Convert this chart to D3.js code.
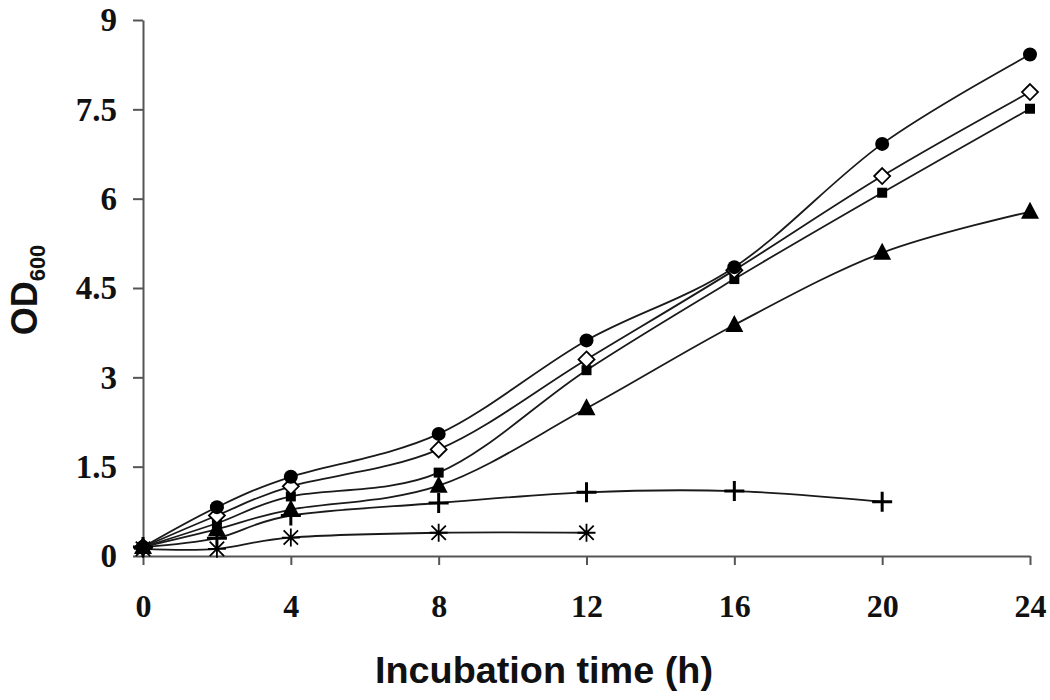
<!DOCTYPE html>
<html><head><meta charset="utf-8">
<script src="https://cdn.jsdelivr.net/npm/d3@7"></script>
<style>body{margin:0;background:#fff}svg{display:block}</style>
</head><body>
<svg id="c" width="1050" height="700"></svg>
<script>
const xTicks = [0, 4, 8, 12, 16, 20, 24];
const yTicks = [0, 1.5, 3, 4.5, 6, 7.5, 9];
const yTickLabels = ["0", "1.5", "3", "4.5", "6", "7.5", "9"];
const hours = [0, 2, 4, 8, 12, 16, 20, 24];
const circleVals   = [0.15, 0.82, 1.33, 2.05, 3.62, 4.85, 6.92, 8.42];
const diamondVals  = [0.15, 0.68, 1.17, 1.79, 3.30, 4.80, 6.38, 7.79];
const squareVals   = [0.15, 0.55, 1.00, 1.40, 3.12, 4.65, 6.10, 7.51];
const triangleVals = [0.15, 0.45, 0.78, 1.18, 2.48, 3.88, 5.09, 5.78];
const plusHours = [0, 2, 4, 8, 12, 16, 20];
const plusVals  = [0.15, 0.30, 0.68, 0.89, 1.07, 1.09, 0.91];
const starHours = [0, 2, 4, 8, 12];
const starVals  = [0.12, 0.12, 0.31, 0.39, 0.39];

const series = [
  {name: "circle", xs: hours, ys: circleVals},
  {name: "diamond", xs: hours, ys: diamondVals},
  {name: "square", xs: hours, ys: squareVals},
  {name: "triangle", xs: hours, ys: triangleVals},
  {name: "plus", xs: plusHours, ys: plusVals},
  {name: "star", xs: starHours, ys: starVals}
];

const svg = d3.select("#c");
const x = d3.scaleLinear().domain([0, 24]).range([143, 1030]);
const y = d3.scaleLinear().domain([0, 9]).range([556, 20]);
const axisColor = "#555";

// axes
const gx = svg.append("g").attr("transform", `translate(0,${y(0)})`)
  .call(d3.axisBottom(x).tickValues(xTicks).tickSize(9).tickSizeOuter(0).tickFormat(d3.format("d")));
gx.select(".domain").attr("stroke", axisColor).attr("stroke-width", 2);
gx.selectAll(".tick line").attr("stroke", axisColor).attr("stroke-width", 2);
gx.selectAll(".tick text").attr("font-family", "Liberation Serif, serif").attr("font-weight", "bold")
  .attr("font-size", 32).attr("fill", "#111").attr("dy", 0).attr("y", 61);

const gy = svg.append("g").attr("transform", `translate(${x(0)},0)`)
  .call(d3.axisLeft(y).tickValues(yTicks).tickSize(10).tickSizeOuter(0).tickFormat((d, i) => yTickLabels[i]));
gy.select(".domain").attr("stroke", axisColor).attr("stroke-width", 2);
gy.selectAll(".tick line").attr("stroke", axisColor).attr("stroke-width", 2);
gy.selectAll(".tick text").attr("font-family", "Liberation Serif, serif").attr("font-weight", "bold")
  .attr("font-size", 33).attr("fill", "#111").attr("x", -26).attr("dy", "0.33em");

// lines
const line = d3.line().x(d => x(d[0])).y(d => y(d[1])).curve(d3.curveCardinal.tension(0));
series.forEach(s => {
  const pts = s.xs.map((h, i) => [h, s.ys[i]]);
  svg.append("path").attr("d", line(pts)).attr("fill", "none")
    .attr("stroke", "#1a1a1a").attr("stroke-width", 1.8);
});

// markers
function drawMarker(g, type, cx, cy) {
  if (type === "circle") {
    g.append("circle").attr("cx", cx).attr("cy", cy).attr("r", 7).attr("fill", "#000");
  } else if (type === "diamond") {
    g.append("path").attr("d", `M${cx},${cy-8}L${cx+8},${cy}L${cx},${cy+8}L${cx-8},${cy}Z`)
      .attr("fill", "#fff").attr("stroke", "#000").attr("stroke-width", 1.8);
  } else if (type === "square") {
    g.append("rect").attr("x", cx-5).attr("y", cy-5).attr("width", 10).attr("height", 10).attr("fill", "#000");
  } else if (type === "triangle") {
    g.append("path").attr("d", `M${cx},${cy-10}L${cx+9},${cy+7}L${cx-9},${cy+7}Z`).attr("fill", "#000");
  } else if (type === "plus") {
    g.append("path").attr("d", `M${cx-10},${cy}H${cx+10}M${cx},${cy-10}V${cy+10}`)
      .attr("stroke", "#000").attr("stroke-width", 3).attr("fill", "none");
  } else if (type === "star") {
    const r = 9, d = r * 0.8;
    g.append("path").attr("d", `M${cx-r},${cy}H${cx+r}M${cx-d},${cy-d}L${cx+d},${cy+d}M${cx-d},${cy+d}L${cx+d},${cy-d}M${cx},${cy-r}V${cy+r}`)
      .attr("stroke", "#000").attr("stroke-width", 1.8).attr("fill", "none");
  }
}
const mg = svg.append("g");
series.slice().reverse().forEach(s => {
  s.xs.forEach((h, i) => drawMarker(mg, s.name, x(h), y(s.ys[i])));
});

// titles
svg.append("text").attr("x", 544).attr("y", 683).attr("text-anchor", "middle")
  .attr("font-family", "Liberation Sans, Arial, sans-serif").attr("font-weight", "bold")
  .attr("font-size", 36).attr("textLength", 338).attr("lengthAdjust", "spacingAndGlyphs")
  .attr("fill", "#111").text("Incubation time (h)");

const yt = svg.append("text").attr("transform", "translate(37,290) rotate(-90)").attr("text-anchor", "middle")
  .attr("font-family", "Liberation Sans, Arial, sans-serif").attr("font-weight", "bold").attr("fill", "#111");
yt.append("tspan").attr("font-size", 36).text("OD");
yt.append("tspan").attr("font-size", 22).attr("dy", 8).text("600");
</script>
</body></html>
